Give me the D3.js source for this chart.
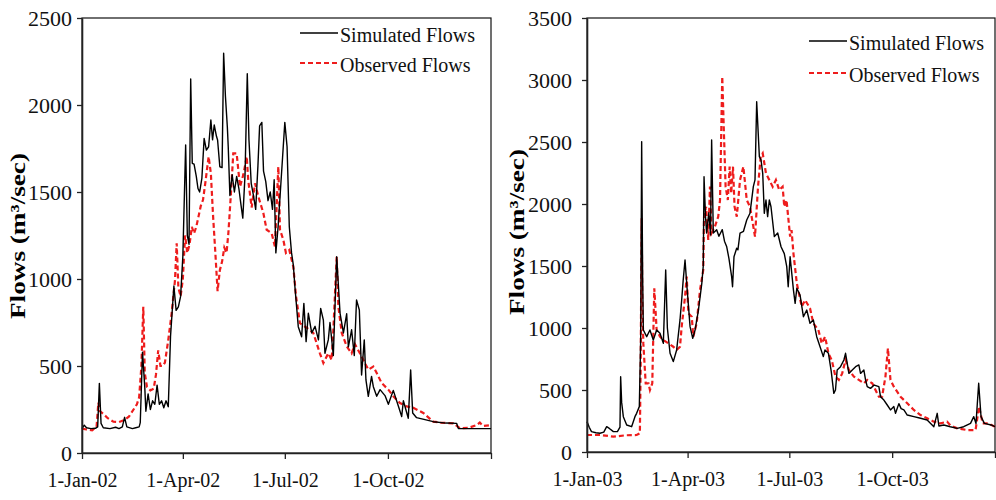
<!DOCTYPE html>
<html>
<head>
<meta charset="utf-8">
<script src="https://cdn.jsdelivr.net/npm/d3@7"></script>
<style>
  body { margin: 0; background: #fff; }
  text { font-family: "Liberation Serif", "Times New Roman", serif; }
</style>
</head>
<body>
<div class="chart"></div>
<script>
// [day of year, flow m3/sec]
var sim2002 = [[0,140],[2,160],[4,145],[8,140],[12,142],[14,150],[15.5,400],[17,170],[19,145],[25,140],[30,148],[33,140],[36,150],[38,205],[40,150],[45,140],[48,145],[51,150],[52,175],[54,580],[56,380],[57,240],[59,340],[61,250],[63,300],[65,280],[67,390],[69,280],[71,300],[73,260],[75,300],[77,266],[79,670],[82,960],[84,820],[86,840],[88,900],[90,1130],[92.5,1770],[94,1250],[95.5,1200],[97,2150],[98.4,1665],[100,1660],[102,1590],[103.5,1520],[105,1500],[107,1580],[109,1808],[111,1741],[113,1760],[115,1914],[116.5,1800],[118,1885],[120,1820],[121,1799],[123,1645],[125,1640],[126.4,2297],[128,2050],[129.7,1875],[130.5,1760],[132,1480],[134,1600],[136,1500],[138,1590],[140,1520],[142,1420],[143.5,1350],[145.5,1600],[147.5,2180],[149,1800],[151,1550],[153,1480],[155,1400],[157,1650],[158.5,1880],[160.5,1900],[162,1620],[164,1560],[166,1450],[168,1500],[170,1400],[171.5,1570],[173,1150],[175,1300],[177,1500],[179,1700],[181,1900],[183,1760],[185,1300],[187,1150],[188.6,1080],[190,956],[193,726],[196,668],[198,860],[200,640],[202,803],[205,690],[208,728],[211,650],[213,831],[215.4,764],[216.8,573],[219.8,650],[221.3,750],[224.3,560],[227.3,1128],[228,1050],[230.3,803],[233.3,690],[236.2,800],[237.7,610],[240.6,708],[243,560],[245,879],[247.5,822],[249.5,448],[251.9,650],[253.4,420],[255.5,326],[258.4,440],[260,381],[263,326],[266,364],[270.4,330],[273.4,280],[277.8,360],[282.3,270],[285.3,210],[286.8,300],[291.2,200],[293.3,477],[295.1,230],[298.6,203],[313.5,180],[325,172],[334.4,170],[335.9,140],[350,140],[365,140]];

var obs2002 = [[0,140],[4,135],[9,130],[13,150],[14.6,290],[16,240],[19,225],[23,200],[28,180],[33,178],[38,190],[42,210],[46,250],[49,280],[51,320],[53,500],[54.7,841],[56,460],[58,380],[61,360],[64,370],[66,450],[68,590],[70,500],[72,500],[74,520],[77,650],[80,803],[83,994],[84.5,1205],[86,950],[88,900],[90,1000],[92,1250],[94,1150],[96,1200],[98,1300],[100,1262],[102,1300],[104,1360],[106,1420],[108,1455],[110,1550],[113,1703],[115,1607],[117,1360],[119,1150],[121,930],[123,1050],[125,1100],[127,1180],[129,1150],[130.6,1262],[133,1500],[135,1722],[138,1722],[139.5,1626],[141,1530],[144,1600],[147,1703],[148.4,1565],[151.4,1411],[154.4,1550],[157.4,1473],[161.8,1380],[164.8,1283],[169.3,1262],[172.2,1185],[175.2,1645],[176.7,1283],[179.7,1224],[182,1150],[185,1167],[188.6,1070],[191,900],[194.5,746],[200.4,720],[206.4,690],[212.3,573],[215.4,517],[219.8,573],[222.8,535],[224.3,708],[227.3,1128],[228.8,841],[231.8,690],[236.2,613],[240.6,573],[243.6,625],[248,573],[251,536],[255.5,479],[260,497],[263,460],[267.4,402],[273.4,364],[277.8,326],[283.8,287],[289.7,268],[295.7,260],[304.6,230],[313.5,180],[320,175],[331.4,170],[337.3,142],[345,145],[352,160],[355,175],[358,155],[365,160]];

var sim2003 = [[0,245],[2,200],[4,164],[8,155],[11.6,151],[15,160],[17.6,204],[20,190],[23.6,164],[27.2,164],[29.5,200],[30.1,607],[31,400],[32.5,285],[35.5,218],[39.9,204],[42.9,285],[44.4,312],[46.8,366],[48,900],[48.9,2503],[49.8,1400],[50.4,984],[53.4,930],[56.3,984],[59.3,903],[62.3,984],[65.3,957],[68.3,876],[70.4,1468],[71.9,1000],[74.3,796],[77.2,729],[80.2,823],[83.2,1065],[84.7,1226],[86,1380],[87.7,1548],[89.2,1360],[92.2,1011],[94.6,917],[96.7,984],[99.7,1145],[102.7,1360],[104,1500],[104.7,2220],[106,1900],[107,1766],[109,1930],[110.5,1750],[111.5,2516],[113,1766],[116,1793],[118,1740],[121,1793],[123,1700],[125,1655],[127,1560],[129.4,1414],[130.2,1333],[131.5,1575],[133.9,1643],[135,1630],[136.9,1766],[140,1780],[142.9,1871],[145.8,1925],[148.8,2140],[150.3,2194],[151.8,2825],[154.2,2382],[155.7,2355],[157.2,2247],[158.6,1925],[160.1,2032],[161.6,1898],[163.1,2032],[164.6,1978],[167.6,1737],[170.6,1766],[173.6,1655],[176.5,1600],[178.7,1495],[180,1333],[181.7,1575],[184.7,1306],[186.2,1199],[187.7,1320],[190.6,1265],[193.6,1091],[196.6,1145],[199.5,1038],[202.5,1065],[205.5,930],[208.5,849],[211.4,769],[212.9,823],[216,796],[218.5,650],[220.8,473],[222.3,500],[223.8,661],[226.8,688],[229.8,742],[231.3,796],[234.3,634],[237.3,661],[240.3,688],[243.2,702],[244.7,634],[247.7,661],[249.2,581],[250.7,527],[253.6,513],[257,540],[261.1,527],[262.6,446],[265.6,419],[268.6,379],[271.5,339],[274.5,366],[276,312],[279,390],[281,350],[283.5,339],[286.5,298],[292.4,285],[298.4,272],[304.3,258],[310.3,204],[313.3,312],[314.8,210],[319.2,218],[325,204],[331.2,191],[337,204],[343.1,231],[346,285],[348,230],[350.4,554],[352.5,285],[355.5,231],[361.5,218],[365,204]];

var obs2003 = [[0,137],[12,137],[23.6,124],[35,135],[44.4,137],[47.3,151],[48,700],[48.9,1885],[49.5,1200],[50.4,876],[52.5,554],[55,554],[56.3,500],[58.4,554],[60.2,1320],[62.3,984],[65.3,930],[68.3,903],[72.8,876],[77.2,849],[80.2,823],[83.2,849],[84.7,1011],[87.7,1253],[89.2,1414],[90.7,1118],[93.7,1091],[95.1,930],[98.1,1038],[101.1,1306],[104,1468],[104.7,1898],[106.5,1978],[108.5,1710],[110,2140],[111.5,1766],[114.4,1817],[117.4,1898],[119,2032],[121,3027],[122.5,2570],[124,2140],[126,2032],[127.6,2301],[129,2086],[130.6,2301],[132,1978],[134,1898],[136.9,2194],[139.9,2301],[142.9,2032],[145.8,1978],[148.8,1817],[150.3,1737],[153,2140],[155.4,2382],[157.2,2409],[160.1,2247],[163.1,2194],[166.1,2140],[169,2194],[172,2113],[175,2140],[176.5,1978],[178.5,2032],[181.7,1737],[183,1790],[184.7,1600],[187.7,1360],[192.1,1172],[195.1,1226],[199.5,1159],[202.5,1038],[207,984],[210,876],[213,930],[216,796],[219,740],[222.3,608],[225.3,581],[228.3,634],[231.3,742],[234.3,661],[238.8,608],[243.2,581],[247.7,554],[250.7,581],[255.2,554],[258.1,500],[261.1,446],[264,446],[267,608],[269.2,836],[271.5,581],[274.5,527],[280.5,446],[286.5,393],[292.4,339],[298.4,298],[304.3,272],[310.3,245],[316.3,231],[322.2,245],[325,215],[331.2,191],[340.1,177],[347.6,177],[350.7,366],[354,231],[358.5,231],[365,204]];

var xTicks2002 = ["1-Jan-02", "1-Apr-02", "1-Jul-02", "1-Oct-02", "1-Jan-03"];
var xTicks2003 = ["1-Jan-03", "1-Apr-03", "1-Jul-03", "1-Oct-03", "1-Jan-04"];
var yTicks2002 = [0, 500, 1000, 1500, 2000, 2500];
var yTicks2003 = [0, 500, 1000, 1500, 2000, 2500, 3000, 3500];
var legendLabels = ["Simulated Flows", "Observed Flows"];
var yTitle = "Flows (m\u00b3/sec)";

var parseTick = d3.utcParse("%d-%b-%y");

var svg = d3.select(".chart")
  .append("svg")
    .attr("width", 996)
    .attr("height", 500);

function drawPanel(p) {
  var g = svg.append("g")
    .attr("transform", "translate(" + p.left + "," + p.top + ")");

  var tickDates = p.xTicks.map(function(s) { return parseTick(s); });
  var start = tickDates[0];

  var x = d3.scaleUtc()
    .domain([start, tickDates[tickDates.length - 1]])
    .range([0, p.width]);

  var y = d3.scaleLinear()
    .domain([0, d3.max(p.yTicks)])
    .range([p.height, 0]);

  function toDate(day) { return new Date(start.getTime() + day * 864e5); }

  // frame (top and right edges)
  g.append("rect")
    .attr("width", p.width)
    .attr("height", p.height)
    .attr("fill", "none")
    .attr("stroke", "#111")
    .attr("stroke-width", 1.2);

  var line = d3.line()
    .x(function(d) { return x(toDate(d[0])); })
    .y(function(d) { return y(d[1]); });

  g.append("path")
    .datum(p.obs)
    .attr("fill", "none")
    .attr("stroke", "#ee1c1c")
    .attr("stroke-width", 2.2)
    .attr("stroke-dasharray", "5,3")
    .attr("d", line);

  g.append("path")
    .datum(p.sim)
    .attr("fill", "none")
    .attr("stroke", "#000")
    .attr("stroke-width", 1.4)
    .attr("stroke-linejoin", "round")
    .attr("d", line);

  // x axis
  var gX = g.append("g")
    .attr("transform", "translate(0," + p.height + ")")
    .call(d3.axisBottom(x)
      .tickValues(tickDates)
      .tickSizeInner(6)
      .tickSizeOuter(0)
      .tickPadding(14)
      .tickFormat(function(d, i) { return i < tickDates.length - 1 ? p.xTicks[i] : ""; }));
  gX.selectAll("text").style("font-size", "20px").attr("fill", "#111");

  // y axis
  var gY = g.append("g")
    .call(d3.axisLeft(y)
      .tickValues(p.yTicks)
      .tickFormat(d3.format("d"))
      .tickSizeInner(5)
      .tickSizeOuter(0)
      .tickPadding(p.yPad));
  gY.selectAll("text").style("font-size", "22px").attr("fill", "#111");

  [gX, gY].forEach(function(a) {
    a.select(".domain").attr("stroke", "#222").attr("stroke-width", 1.6);
    a.selectAll(".tick line").attr("stroke", "#222").attr("stroke-width", 1.3);
  });

  // y axis title
  svg.append("text")
    .attr("transform", "translate(" + p.titleX + "," + p.titleY + ") rotate(-90)")
    .attr("text-anchor", "middle")
    .attr("textLength", 166)
    .attr("lengthAdjust", "spacingAndGlyphs")
    .style("font-size", "22px")
    .style("font-weight", "bold")
    .text(yTitle);

  // legend
  var styles = [
    { stroke: "#000", width: 1.4, dash: null },
    { stroke: "#ee1c1c", width: 2.2, dash: "5,3" }
  ];
  legendLabels.forEach(function(label, i) {
    var ly = p.legY + i * p.legStep;
    svg.append("line")
      .attr("x1", p.legX).attr("x2", p.legX + 38)
      .attr("y1", ly - 9).attr("y2", ly - 9)
      .attr("stroke", styles[i].stroke)
      .attr("stroke-width", styles[i].width)
      .attr("stroke-dasharray", styles[i].dash);
    svg.append("text")
      .attr("x", p.legX + 40)
      .attr("y", ly)
      .style("font-size", "20px")
      .attr("fill", "#111")
      .text(label);
  });
}

drawPanel({
  left: 82, top: 18, width: 409, height: 435,
  xTicks: xTicks2002, yTicks: yTicks2002, yPad: 5,
  sim: sim2002, obs: obs2002,
  titleX: 25, titleY: 236,
  legX: 300, legY: 42, legStep: 30
});

drawPanel({
  left: 587, top: 18, width: 408, height: 434,
  xTicks: xTicks2003, yTicks: yTicks2003, yPad: 10,
  sim: sim2003, obs: obs2003,
  titleX: 524, titleY: 232,
  legX: 809, legY: 50, legStep: 32
});
</script>
</body>
</html>
